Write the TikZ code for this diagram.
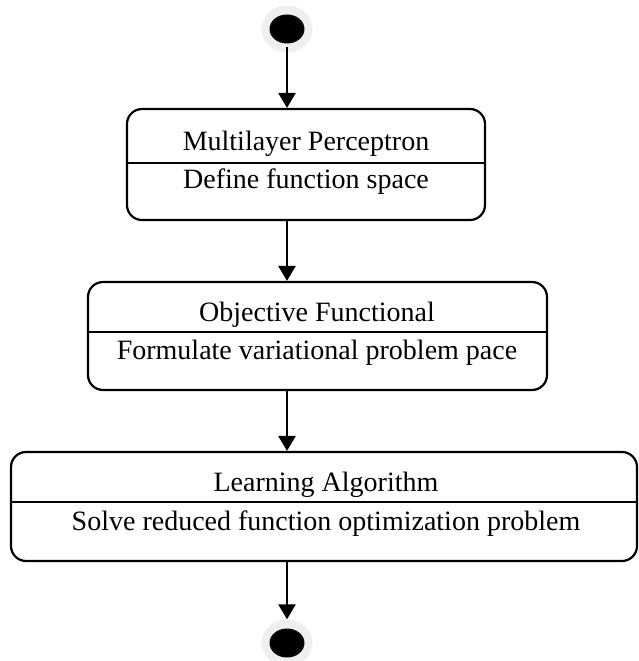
\documentclass[tikz,border=0pt]{standalone}
\usepackage{fontspec}
\setmainfont{Liberation Serif}
\usetikzlibrary{arrows.meta,shapes.geometric}
\definecolor{halogrey}{HTML}{EFEFEF}
\begin{document}
\begin{tikzpicture}[x=1pt,y=-1pt,
  flow/.style={line width=2.6pt,-{Triangle[width=17pt,length=15pt]}},
  statebox/.style={draw,line width=2.2pt,rounded corners=15pt,inner sep=0pt},
  divider/.style={line width=2.2pt},
  lbl/.style={font=\fontsize{28}{32}\selectfont,inner sep=0pt,anchor=base},
  halo/.style={ellipse,fill=halogrey,inner sep=0pt,minimum width=51pt,minimum height=47pt},
  dot/.style={ellipse,fill=black,inner sep=0pt,minimum width=35pt,minimum height=29pt}]
\useasboundingbox (0,0) rectangle (638,661);

% initial state
\node[halo] (starthalo) at (287,29) {};
\node[dot] (start) at (287,29) {};

% final state
\node[halo] (endhalo) at (287,643) {};
\node[dot] (end) at (287,643) {};

% Multilayer Perceptron
\node[statebox,minimum width=358pt,minimum height=111pt] (mlp) at (306,164.5) {};
\coordinate (mlpdiv) at (306,163);
\draw[divider] (mlp.west |- mlpdiv) -- (mlp.east |- mlpdiv);
\node[lbl] (mlptitle) at (306,150) {Multilayer Perceptron};
\node[lbl] (mlpbody) at (306,188) {Define function space};

% Objective Functional
\node[statebox,minimum width=459pt,minimum height=108pt] (obj) at (317.5,336) {};
\coordinate (objdiv) at (317.5,332);
\draw[divider] (obj.west |- objdiv) -- (obj.east |- objdiv);
\node[lbl] (objtitle) at (317,321) {Objective Functional};
\node[lbl] (objbody) at (317,359) {Formulate variational problem pace};

% Learning Algorithm
\node[statebox,minimum width=626pt,minimum height=109pt] (alg) at (324,506.5) {};
\coordinate (algdiv) at (324,502);
\draw[divider] (alg.west |- algdiv) -- (alg.east |- algdiv);
\node[lbl] (algtitle) at (326,491) {Learning Algorithm};
\node[lbl] (algbody) at (326,530) {Solve reduced function optimization problem};

% transitions
\draw[flow] ([yshift=-3pt]start.south) -- (mlp.north -| start);
\draw[flow] (mlp.south -| start) -- (obj.north -| start);
\draw[flow] (obj.south -| start) -- (alg.north -| start);
\draw[flow] (alg.south -| start) -- (endhalo.north);
\end{tikzpicture}
\end{document}
